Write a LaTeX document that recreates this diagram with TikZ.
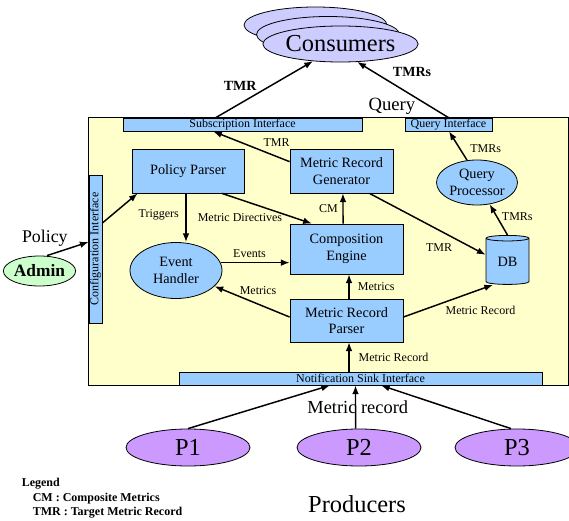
\documentclass[tikz,border=0pt]{standalone}
\usepackage{fontspec}
\setmainfont{Liberation Serif}
\usepackage{tikz}
\usetikzlibrary{shapes,arrows.meta,positioning,calc}

\definecolor{boxblue}{RGB}{153,204,255}
\definecolor{panelyellow}{RGB}{255,255,204}
\definecolor{consumerlilac}{RGB}{204,204,255}
\definecolor{producerpurple}{RGB}{204,153,255}
\definecolor{admingreen}{RGB}{204,255,204}

\begin{document}
\begin{tikzpicture}[
    x=0.75pt, y=-0.75pt,
    block/.style={rectangle, draw, line width=0.6pt, fill=boxblue, align=center, inner sep=1pt, font=\fontsize{10.7}{12.5}\selectfont},
    oval/.style={ellipse, draw, line width=0.6pt, fill=boxblue, align=center, inner sep=0pt, font=\fontsize{10.7}{12.5}\selectfont},
    bar/.style={rectangle, draw, line width=0.6pt, fill=boxblue, inner sep=0pt, minimum height=9.75pt, font=\fontsize{9}{9}\selectfont},
    actor/.style={ellipse, draw, line width=0.6pt, fill=producerpurple, inner sep=0pt, minimum width=93pt, minimum height=27.75pt, font=\fontsize{18.3}{20}\selectfont},
    cloud/.style={ellipse, draw, line width=0.6pt, fill=consumerlilac, inner sep=0pt, minimum width=107.25pt, minimum height=27pt},
    arrow/.style={-{Latex[length=6.5pt, width=5pt]}, line width=1.1pt},
    lbl/.style={font=\fontsize{9}{10}\selectfont},
    big/.style={font=\fontsize{13.8}{15}\selectfont},
    tmr/.style={font=\fontsize{10.5}{12}\selectfont\bfseries},
    legend/.style={anchor=west, inner sep=0pt, font=\fontsize{9}{10}\selectfont\bfseries}
]
\useasboundingbox (0,0) rectangle (569,521);

% Monitoring platform
\node[draw, line width=0.6pt, fill=panelyellow, minimum width=360pt, minimum height=201pt, inner sep=0pt] (platform) at (328,251) {};

% Interfaces
\node[bar, minimum width=179.25pt] (sub) at (242.5,124.5) {Subscription Interface};
\node[bar, minimum width=65.25pt] (qi) at (448.5,124.5) {Query Interface};
\node[bar, rotate=90, minimum width=111pt] (cfg) at (95.5,249) {Configuration Interface};
\node[bar, minimum width=272.25pt] (notif) at (360.5,378.5) {Notification Sink Interface};

% Components
\node[block, minimum width=84pt, minimum height=33pt] (pp) at (188,171) {Policy Parser};
\node[block, minimum width=77.25pt, minimum height=33pt] (mrg) at (341.5,171) {Metric Record\\Generator};
\node[block, minimum width=84.75pt, minimum height=37.5pt] (ce) at (346.5,249) {Composition\\Engine};
\node[block, minimum width=84.75pt, minimum height=32.25pt] (mrp) at (346.5,320.5) {Metric Record\\Parser};
\node[oval, minimum width=69pt, minimum height=42pt] (eh) at (176,270.5) {Event\\Handler};
\node[oval, minimum width=60.75pt, minimum height=33.75pt] (qp) at (477,182.5) {Query\\Processor};
\node[cylinder, shape border rotate=90, aspect=0.28, draw, line width=0.6pt, fill=boxblue, inner sep=0pt,
      minimum width=32.25pt, minimum height=36.75pt, font=\fontsize{10.7}{12.5}\selectfont] (db) at (507.5,261.5) {DB};

% Consumers, admin and producers
\node[cloud] (cons3) at (315.5,25) {};
\node[cloud] (cons2) at (328,34.5) {};
\node[cloud, font=\fontsize{18.3}{20}\selectfont] (cons) at (340.5,44) {Consumers};
\node[ellipse, draw, line width=0.6pt, fill=admingreen, inner sep=0pt, minimum width=47.25pt, minimum height=22.5pt,
      font=\fontsize{13}{14}\selectfont\bfseries] (admin) at (39.5,271) {Admin};
\node[font=\fontsize{13.4}{14}\selectfont, above=3.5pt of admin, xshift=4pt] (policy) {Policy};
\node[actor] (p1) at (188,447.5) {P1};
\node[actor] (p2) at (359,447.5) {P2};
\node[actor] (p3) at (517,447.5) {P3};
\node[font=\fontsize{18.3}{20}\selectfont] (producers) at (357,504) {Producers};

% Helper points
\coordinate (trig) at ([xshift=-1.5pt]pp.south);

% Outgoing flows
\draw[arrow] ([xshift=-20pt]sub.north) -- node[pos=0.25, above=6pt, tmr] (l1) {TMR} (cons.212);
\draw[arrow] (qi.north) -- node[pos=0.4, above=10pt, tmr] (l2) {TMRs}
    node[pos=0.62, below=7.5pt, font=\fontsize{14}{15}\selectfont] (l3) {Query} (cons.313);
\draw[arrow] ([yshift=7pt]mrg.west) -- node[pos=0.17, above=3.8pt, lbl] (l4) {TMR} ([xshift=-22pt]sub.south);
\draw[arrow] (qp.114) -- node[pos=0.4, right=4pt, lbl] (l5) {TMRs} ([xshift=0.4pt]qi.south);
\draw[arrow] (db.north) -- node[pos=0.6, right=0pt, lbl] (l6) {TMRs} (qp);

% Internal flows
\draw[arrow] ([xshift=21pt]mrg.south) -- node[pos=0.6, below=6.5pt, lbl] (l7) {TMR} ([yshift=5pt]db.west);
\draw[arrow] ([xshift=-2.6pt]ce.north) -- node[left=0pt, lbl] (l8) {CM} ([xshift=1.1pt]mrg.south);
\draw[arrow] ([xshift=25.5pt]pp.south) -- node[pos=0.2, below=7pt, lbl] (l9) {Metric Directives} ([xshift=-26pt]ce.north);
\draw[arrow] (trig) -- node[pos=0.44, left=1.5pt, lbl] (l10) {Triggers} (trig |- eh.north);
\draw[arrow] ([yshift=19.5pt]cfg.south) -- ([xshift=4.5pt]pp.south west);
\draw[arrow] ([xshift=5.6pt]admin.north) -- ([yshift=5.25pt]cfg.north);
\draw[arrow] (eh.10) -- node[pos=0.42, above, lbl] (l11) {Events} (eh.10 -| ce.west);
\draw[arrow] ([yshift=2.6pt]mrp.west) -- node[pos=0.42, above=2.9pt, lbl] (l12) {Metrics} (eh);
\draw[arrow] ([xshift=1.9pt]mrp.north) -- node[right=2.8pt, lbl] (l13) {Metrics} ([xshift=1.9pt]ce.south);
\draw[arrow] ([yshift=2.6pt]mrp.east) -- node[pos=0.86, below=8.5pt, lbl] (l14) {Metric Record} ([xshift=-10.9pt]db.south);
\draw[arrow] ([xshift=-8.6pt]notif.north) -- node[right=3.4pt, lbl] (l15) {Metric Record} ([xshift=1.9pt]mrp.south);

% Producer flows
\draw[arrow] (p1.north) -- ([xshift=-22.9pt]notif.south);
\draw[arrow] ([xshift=-2.6pt]p2.north) -- node[xshift=1.7pt, big] (l16) {Metric record} ([xshift=-3.75pt]notif.south);
\draw[arrow] ([xshift=-4.5pt]p3.north) -- ([xshift=15.4pt]notif.south);

% Legend
\node[legend] (legtitle) at (21.5,484) {Legend};
\node[legend] (legcm) at (32.5,499) {CM : Composite Metrics};
\node[legend] (legtmr) at (32.5,513) {TMR : Target Metric Record};

\end{tikzpicture}
\end{document}
